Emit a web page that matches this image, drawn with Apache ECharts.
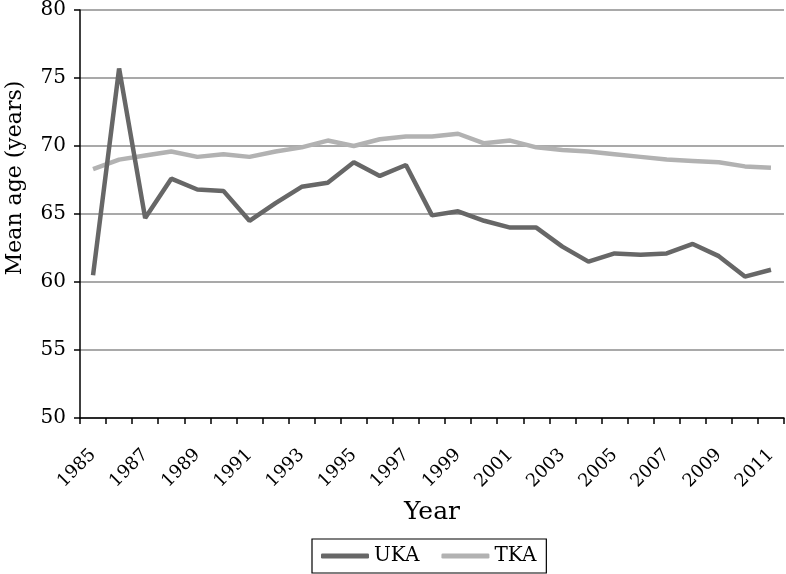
<!DOCTYPE html>
<html>
<head>
<meta charset="utf-8">
<script src="https://cdn.jsdelivr.net/npm/echarts@6/dist/echarts.min.js"></script>
<style>html,body{margin:0;padding:0;background:#fff}#c{width:786px;height:574px}</style>
</head>
<body>
<div id="c"></div>
<script>
var years = ['1985','1986','1987','1988','1989','1990','1991','1992','1993','1994','1995','1996','1997','1998','1999','2000','2001','2002','2003','2004','2005','2006','2007','2008','2009','2010','2011'];
var uka = [60.5,75.7,64.7,67.6,66.8,66.7,64.5,65.8,67.0,67.3,68.8,67.8,68.6,64.9,65.2,64.5,64.0,64.0,62.6,61.5,62.1,62.0,62.1,62.8,61.9,60.4,60.9];
var tka = [68.3,69.0,69.3,69.6,69.2,69.4,69.2,69.6,69.9,70.4,70.0,70.5,70.7,70.7,70.9,70.2,70.4,69.9,69.7,69.6,69.4,69.2,69.0,68.9,68.8,68.5,68.4];
var seriesNames = ['UKA','TKA'];
var FONT = 'DejaVu Serif';
var chart = echarts.init(document.getElementById('c'));
chart.setOption({
  animation: false,
  backgroundColor: '#fff',
  grid: {left: 80, right: 2, top: 10, bottom: 156, containLabel: false, outerBoundsMode: 'none'},
  legend: {
    data: seriesNames,
    left: 312, top: 539,
    padding: [7, 10, 7, 9],
    borderColor: '#000', borderWidth: 1.2,
    itemWidth: 48, itemHeight: 5, itemGap: 22,
    icon: 'roundRect',
    textStyle: {fontFamily: FONT, fontSize: 20, color: '#000'}
  },
  xAxis: {
    type: 'category', data: years, boundaryGap: true,
    name: 'Year', nameLocation: 'middle', nameGap: 82,
    nameTextStyle: {fontFamily: FONT, fontSize: 25, color: '#000'},
    axisLine: {lineStyle: {color: '#000', width: 1.5}},
    axisTick: {show: true, interval: 0, length: 6, lineStyle: {color: '#000', width: 1.5}},
    axisLabel: {interval: 1, rotate: 45, fontFamily: FONT, fontSize: 18, color: '#000', margin: 34},
    splitLine: {show: false}
  },
  yAxis: {
    type: 'value', min: 50, max: 80, interval: 5,
    name: 'Mean age (years)', nameLocation: 'middle', nameGap: 54,
    nameTextStyle: {fontFamily: FONT, fontSize: 22, color: '#000', padding: [0, 0, 0, 72]},
    axisLine: {show: true, lineStyle: {color: '#000', width: 1.5}},
    axisTick: {show: true, length: 6, lineStyle: {color: '#000', width: 1.5}},
    axisLabel: {fontFamily: FONT, fontSize: 20, color: '#000', margin: 14},
    splitLine: {show: true, lineStyle: {color: '#8c8c8c', width: 1.5}}
  },
  series: [
    {name: seriesNames[0], type: 'line', data: uka, showSymbol: false, symbol: 'none',
     lineStyle: {color: '#676767', width: 4.5}, itemStyle: {color: '#676767'}, z: 3},
    {name: seriesNames[1], type: 'line', data: tka, showSymbol: false, symbol: 'none',
     lineStyle: {color: '#b2b2b2', width: 4.5}, itemStyle: {color: '#b2b2b2'}, z: 2}
  ]
});
</script>
</body>
</html>
